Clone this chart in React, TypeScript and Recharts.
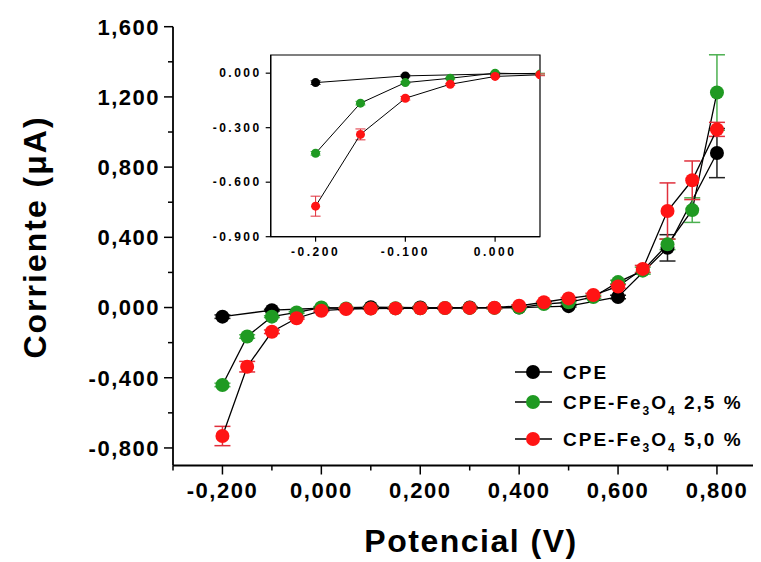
import React from 'react';
import { LineChart, Line, XAxis, YAxis, ErrorBar, Legend, Label, ReferenceArea } from 'recharts';

// ---------- DATA ----------
const cpeX = [-0.2, -0.1, 0, 0.1, 0.2, 0.3, 0.4, 0.5, 0.6, 0.7, 0.8];
const cpeY = [-0.052, -0.015, -0.004, 0.002, 0.0, 0.0, 0.0, 0.008, 0.06, 0.34, 0.88];
const cpeErr = [0.01, 0.005, 0.005, 0.005, 0.005, 0.005, 0.005, 0.005, 0.01, 0.075, 0.14];

const fe25X = [-0.2, -0.15, -0.1, -0.05, 0, 0.05, 0.1, 0.15, 0.2, 0.25, 0.3, 0.35, 0.4, 0.45, 0.5, 0.55, 0.6, 0.65, 0.7, 0.75, 0.8];
const fe25Y = [-0.441, -0.165, -0.052, -0.028, 0.0, -0.005, -0.005, -0.004, -0.004, -0.003, -0.002, -0.002, 0.0, 0.02, 0.03, 0.06, 0.145, 0.21, 0.36, 0.555, 1.225];
const fe25Err = [0.01, 0.01, 0.005, 0.005, 0.005, 0.005, 0.005, 0.005, 0.005, 0.005, 0.005, 0.005, 0.005, 0.005, 0.005, 0.01, 0.01, 0.02, 0.03, 0.07, 0.215];

const fe50X = [-0.2, -0.15, -0.1, -0.05, 0, 0.05, 0.1, 0.15, 0.2, 0.25, 0.3, 0.35, 0.4, 0.45, 0.5, 0.55, 0.6, 0.65, 0.7, 0.75, 0.8];
const fe50Y = [-0.732, -0.337, -0.138, -0.061, -0.018, -0.009, -0.006, -0.005, -0.004, -0.003, -0.002, -0.001, 0.01, 0.03, 0.052, 0.071, 0.12, 0.22, 0.55, 0.725, 1.015];
const fe50Err = [0.055, 0.03, 0.01, 0.005, 0.005, 0.005, 0.005, 0.005, 0.005, 0.005, 0.005, 0.005, 0.005, 0.005, 0.005, 0.01, 0.01, 0.02, 0.16, 0.11, 0.04];

const mainXTicks = [-0.3, -0.2, -0.1, 0, 0.1, 0.2, 0.3, 0.4, 0.5, 0.6, 0.7, 0.8];
const mainXMajor = [-0.2, 0, 0.2, 0.4, 0.6, 0.8];
const mainYTicks = [-0.8, -0.6, -0.4, -0.2, 0, 0.2, 0.4, 0.6, 0.8, 1.0, 1.2, 1.4, 1.6];
const mainYMajor = [-0.8, -0.4, 0, 0.4, 0.8, 1.2, 1.6];
const insetXTicks = [-0.2, -0.1, 0];
const insetYTicks = [-0.9, -0.6, -0.3, 0];

const seriesNames = ['CPE', 'CPE-Fe3O4 2,5 %', 'CPE-Fe3O4 5,0 %'];
const xTitle = 'Potencial (V)';
const yTitle = 'Corriente (\u03bcA)';

// ---------- STYLE ----------
const FONT = '"Liberation Sans", Arial, sans-serif';
const BLACK = '#000000';
const GREEN = '#1f9a22';
const RED = '#ff1414';
const BLACK_ERR = '#222222';
const GREEN_ERR = '#4cb050';
const RED_ERR = '#e0303c';

const toRows = (xs: number[], ys: number[], es: number[]) => xs.map((x, i) => ({ x, y: ys[i], e: es[i] }));
const cpeData = toRows(cpeX, cpeY, cpeErr);
const fe25Data = toRows(fe25X, fe25Y, fe25Err);
const fe50Data = toRows(fe50X, fe50Y, fe50Err);

const isIn = (v: number, list: number[]) => list.some((m) => Math.abs(m - v) < 1e-6);
const fmtComma = (v: number) => v.toFixed(3).replace('.', ',');
const fmtDot = (v: number) => v.toFixed(3);

const MainYTick = (props: any) => {
  const { x, y, payload } = props;
  const major = isIn(payload.value, mainYMajor);
  return (
    <g>
      <line x1={x - (major ? 9 : 5)} x2={x} y1={y} y2={y} stroke={BLACK} strokeWidth={1.5} />
      {major && (
        <text x={x - 13} y={y} dy="0.36em" textAnchor="end" fontFamily={FONT} fontWeight="bold" fontSize={22} letterSpacing={1.5} fill={BLACK}>
          {fmtComma(payload.value)}
        </text>
      )}
    </g>
  );
};

const MainXTick = (props: any) => {
  const { x, y, payload } = props;
  const major = isIn(payload.value, mainXMajor);
  return (
    <g>
      <line x1={x} x2={x} y1={y} y2={y + (major ? 9 : 5)} stroke={BLACK} strokeWidth={1.5} />
      {major && (
        <text x={x} y={y + 25} dy="0.36em" textAnchor="middle" fontFamily={FONT} fontWeight="bold" fontSize={22} letterSpacing={1.5} fill={BLACK}>
          {fmtComma(payload.value)}
        </text>
      )}
    </g>
  );
};

const renderName = (name: string) => {
  // subscript digits in chemical formula "Fe3O4"
  const m = name.match(/^(.*Fe)(\d)(O)(\d)(.*)$/);
  if (!m) return [<tspan key="a">{name}</tspan>];
  return [
    <tspan key="a">{m[1]}</tspan>,
    <tspan key="b" fontSize={12} dy={6}>{m[2]}</tspan>,
    <tspan key="c" dy={-6}>{m[3]}</tspan>,
    <tspan key="d" fontSize={12} dy={6}>{m[4]}</tspan>,
    <tspan key="e" dy={-6}>{m[5]}</tspan>,
  ];
};

const legendColors = [BLACK, GREEN, RED];
const legendRowY = [19, 49, 86];

const LegendContent = () => (
  <svg width={253} height={110} style={{ display: 'block' }}>
    {seriesNames.map((n, i) => (
      <g key={n}>
        <line x1={7} x2={44} y1={legendRowY[i]} y2={legendRowY[i]} stroke={BLACK} strokeWidth={1.5} />
        <circle cx={25} cy={legendRowY[i]} r={7} fill={legendColors[i]} />
        <text x={55} y={legendRowY[i]} dy="0.36em" fontFamily={FONT} fontWeight="bold" fontSize={19} letterSpacing={2} fill={BLACK}>
          {renderName(n)}
        </text>
      </g>
    ))}
  </svg>
);

export default function App() {
  return (
    <div style={{ position: 'relative', width: 753, height: 554, overflow: 'hidden', background: '#fff' }}>
      <LineChart width={800} height={554} margin={{ top: 18.7, right: 41.6, bottom: 36.5, left: 65 }}>
        <XAxis
          dataKey="x"
          type="number"
          domain={[-0.3, 0.9]}
          allowDataOverflow
          ticks={mainXTicks}
          interval={0}
          tickSize={0}
          tickMargin={0}
          tickLine={false}
          tick={<MainXTick />}
          height={60}
          axisLine={{ stroke: BLACK, strokeWidth: 1.8 }}
        >
          <Label
            content={() => (
              <text x={463} y={543.5} textAnchor="middle" fontFamily={FONT} fontWeight="bold" fontSize={32} letterSpacing={1.5} fill={BLACK}>
                {xTitle}
              </text>
            )}
          />
        </XAxis>
        <YAxis
          type="number"
          domain={[-0.9, 1.6]}
          allowDataOverflow
          ticks={mainYTicks}
          interval={0}
          tickSize={0}
          tickMargin={0}
          tickLine={false}
          tick={<MainYTick />}
          width={100}
          axisLine={{ stroke: BLACK, strokeWidth: 1.8 }}
        >
          <Label
            content={() => (
              <text x={38} y={229} textAnchor="middle" transform="rotate(-90 38 229)" fontFamily={FONT} fontWeight="bold" fontSize={32} letterSpacing={2} fill={BLACK}>
                {yTitle}
              </text>
            )}
          />
        </YAxis>
        <Legend
          layout="vertical"
          align="center"
          verticalAlign="middle"
          content={<LegendContent />}
          wrapperStyle={{ position: 'absolute', left: 500, top: 345, width: 253, height: 110 }}
        />
        <Line data={cpeData} dataKey="y" name={seriesNames[0]} stroke={BLACK} strokeWidth={1.3} isAnimationActive={false} activeDot={false}
          dot={{ r: 7, fill: BLACK, stroke: BLACK, strokeWidth: 0 }}>
          <ErrorBar dataKey="e" direction="y" width={8} strokeWidth={1.5} stroke={BLACK_ERR} />
        </Line>
        <Line data={fe25Data} dataKey="y" name={seriesNames[1]} stroke={BLACK} strokeWidth={1.3} isAnimationActive={false} activeDot={false}
          dot={{ r: 7, fill: GREEN, stroke: GREEN, strokeWidth: 0 }}>
          <ErrorBar dataKey="e" direction="y" width={8} strokeWidth={1.5} stroke={GREEN_ERR} />
        </Line>
        <Line data={fe50Data} dataKey="y" name={seriesNames[2]} stroke={BLACK} strokeWidth={1.3} isAnimationActive={false} activeDot={false}
          dot={{ r: 7, fill: RED, stroke: RED, strokeWidth: 0 }}>
          <ErrorBar dataKey="e" direction="y" width={8} strokeWidth={1.5} stroke={RED_ERR} />
        </Line>
      </LineChart>

      <div style={{ position: 'absolute', left: 200, top: 40, width: 340, height: 230 }}>
        <LineChart width={340} height={230} margin={{ top: 7, right: 8, bottom: 11.3, left: 0 }}>
          <XAxis
            dataKey="x"
            type="number"
            domain={[-0.25, 0.05]}
            allowDataOverflow
            ticks={insetXTicks}
            interval={0}
            tickFormatter={fmtDot}
            tickSize={5}
            tickMargin={6}
            height={30}
            axisLine={{ stroke: BLACK, strokeWidth: 1.2 }}
            tickLine={{ stroke: BLACK, strokeWidth: 1.2 }}
            tick={{ fontFamily: FONT, fontWeight: 'bold', fontSize: 12, fill: BLACK, letterSpacing: 2.5 }}
          />
          <YAxis
            type="number"
            domain={[-0.9, 0.1]}
            allowDataOverflow
            ticks={insetYTicks}
            interval={0}
            tickFormatter={fmtDot}
            tickSize={5}
            tickMargin={4}
            width={62.7}
            axisLine={{ stroke: BLACK, strokeWidth: 1.2 }}
            tickLine={{ stroke: BLACK, strokeWidth: 1.2 }}
            tick={{ fontFamily: FONT, fontWeight: 'bold', fontSize: 12, fill: BLACK, letterSpacing: 2.5 }}
          />
          <ReferenceArea x1={-0.25} x2={0.05} y1={-0.9} y2={0.1} fill="none" fillOpacity={0} stroke={BLACK} strokeWidth={1.2} />
          <Line data={cpeData} dataKey="y" stroke={BLACK} strokeWidth={1} isAnimationActive={false} activeDot={false}
            dot={{ r: 4.5, fill: BLACK, stroke: BLACK, strokeWidth: 0 }}>
            <ErrorBar dataKey="e" direction="y" width={5} strokeWidth={1} stroke={BLACK_ERR} />
          </Line>
          <Line data={fe25Data} dataKey="y" stroke={BLACK} strokeWidth={1} isAnimationActive={false} activeDot={false}
            dot={{ r: 4.5, fill: GREEN, stroke: GREEN, strokeWidth: 0 }}>
            <ErrorBar dataKey="e" direction="y" width={5} strokeWidth={1} stroke={GREEN_ERR} />
          </Line>
          <Line data={fe50Data} dataKey="y" stroke={BLACK} strokeWidth={1} isAnimationActive={false} activeDot={false}
            dot={{ r: 4.5, fill: RED, stroke: RED, strokeWidth: 0 }}>
            <ErrorBar dataKey="e" direction="y" width={5} strokeWidth={1} stroke={RED_ERR} />
          </Line>
        </LineChart>
      </div>
    </div>
  );
}
